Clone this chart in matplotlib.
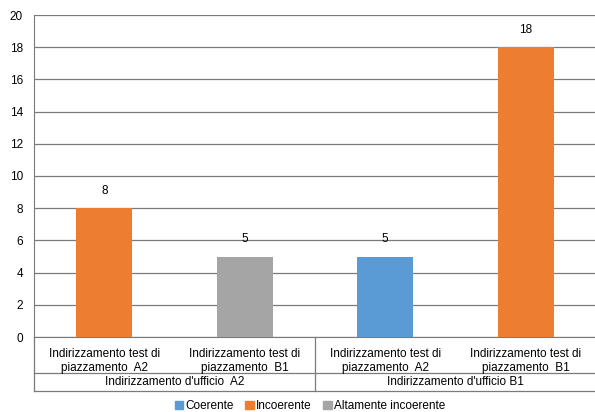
import matplotlib.pyplot as plt
from matplotlib.patches import Patch
from matplotlib.transforms import blended_transform_factory

plt.rcParams["font.family"] = ["Liberation Sans", "DejaVu Sans"]

categories = ["Indirizzamento test di\npiazzamento  A2", "Indirizzamento test di\npiazzamento  B1",
              "Indirizzamento test di\npiazzamento  A2", "Indirizzamento test di\npiazzamento  B1"]
groups = ["Indirizzamento d'ufficio  A2", "Indirizzamento d'ufficio B1"]
values = [8, 5, 5, 18]
series = ["Incoerente", "Altamente incoerente", "Coerente", "Incoerente"]
legend_names = ["Coerente", "Incoerente", "Altamente incoerente"]
colors = {"Coerente": "#5B9BD5", "Incoerente": "#ED7D31", "Altamente incoerente": "#A5A5A5"}

W, H = 595, 412
fs = 8.5
fig = plt.figure(figsize=(W / 100, H / 100), dpi=100)
x0, x1, y0, y20 = 34, 596, 337, 15
ax = fig.add_axes([x0 / W, (H - y0) / H, (x1 - x0) / W, (y0 - y20) / H])

xs = list(range(len(values)))
bars = ax.bar(xs, values, width=0.4, color=[colors[s] for s in series], zorder=3)
for b, v in zip(bars, values):
    ax.annotate(str(v), (b.get_x() + b.get_width() / 2, v), xytext=(0, 8),
                textcoords="offset points", ha="center", va="bottom", fontsize=fs)

ax.set_xlim(-0.5, len(values) - 0.5)
ax.set_ylim(0, 20)
ax.set_yticks(range(0, 21, 2))
ax.tick_params(axis="y", length=0, labelsize=fs, pad=8)
ax.set_xticks([])
ax.grid(axis="y", color="#7a7a7a", linewidth=0.9, zorder=0)
for s in ["top", "right"]:
    ax.spines[s].set_visible(False)
ax.spines["bottom"].set_color("#7a7a7a")
ax.spines["left"].set_color("#7a7a7a")

# two-level category table under the axis
tr = blended_transform_factory(ax.transData, ax.transAxes)
def yfrac(px):
    return -(px - y0) / (y0 - y20)
row1, row2 = yfrac(373), yfrac(391)
lc = "#7a7a7a"
ax.plot([-0.5, 3.5], [row1, row1], transform=tr, color=lc, lw=0.9, clip_on=False)
ax.plot([-0.5, 3.5], [row2, row2], transform=tr, color=lc, lw=0.9, clip_on=False)
for xv in [-0.5, 1.5]:
    ax.plot([xv, xv], [0, row2], transform=tr, color=lc, lw=0.9, clip_on=False)
for x, lab in zip(xs, categories):
    ax.text(x, yfrac(361), lab, transform=tr, ha="center", va="center",
            fontsize=fs, linespacing=1.25)
for i, g in enumerate(groups):
    ax.text(2 * i + 0.5, yfrac(382), g, transform=tr, ha="center",
            va="center", fontsize=fs)

handles = [Patch(color=colors[n], label=n) for n in legend_names]
fig.legend(handles=handles, loc="center", bbox_to_anchor=(310 / W, 1 - 406 / H),
           ncol=3, frameon=False, fontsize=fs, handlelength=0.7, handleheight=0.7,
           handletextpad=0.2, columnspacing=1.0)

fig.savefig("out.png", dpi=100)
